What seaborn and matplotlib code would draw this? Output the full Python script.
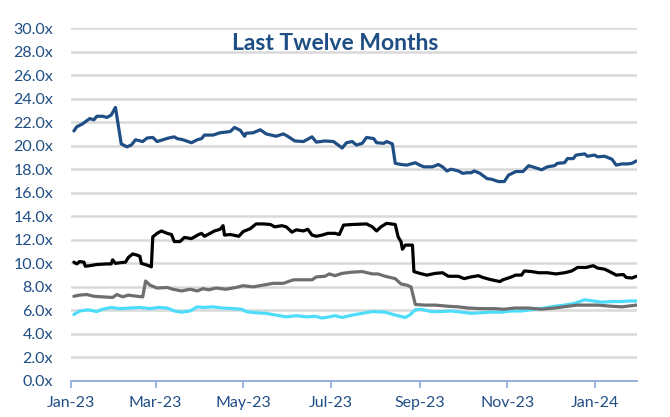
import matplotlib
matplotlib.use("Agg")
import matplotlib.pyplot as plt
import matplotlib.dates as mdates
import matplotlib.ticker as mticker
import numpy as np
import pandas as pd
import seaborn as sns

START = pd.Timestamp("2023-01-01")

# Days since 2023-01-01 and LTM multiples
blue_days = [2, 4, 8, 13, 16, 18, 22, 25, 28, 31, 35, 39, 42, 45, 50, 53, 57, 60, 64, 68, 72, 74, 78, 84, 88,
             91, 93, 99, 104, 111, 114, 118, 121, 122, 127, 132, 136, 143, 148, 151, 156, 162, 168, 171, 177,
             183, 189, 192, 196, 199, 203, 206, 211, 213, 218, 220, 224, 226, 230, 234, 240, 243, 246, 252,
             256, 259, 262, 265, 270, 273, 276, 279, 281, 285, 290, 293, 298, 302, 305, 310, 315, 319, 323,
             328, 332, 337, 339, 344, 346, 350, 352, 358, 360, 365, 367, 372, 377, 380, 384, 388, 391, 394]
blue_vals = [21.25, 21.6, 21.85, 22.3, 22.2, 22.5, 22.5, 22.4, 22.6, 23.25, 20.15, 19.9, 20.05, 20.5, 20.35,
             20.65, 20.7, 20.35, 20.5, 20.65, 20.75, 20.6, 20.5, 20.25, 20.5, 20.6, 20.9, 20.9, 21.1, 21.2,
             21.55, 21.3, 20.8, 21.05, 21.1, 21.35, 21.0, 20.8, 21.0, 20.8, 20.4, 20.35, 20.75, 20.3, 20.4,
             20.35, 19.8, 20.25, 20.35, 20.05, 20.2, 20.7, 20.6, 20.25, 20.2, 20.35, 20.15, 18.5, 18.4, 18.35,
             18.55, 18.35, 18.2, 18.2, 18.4, 18.2, 17.85, 18.0, 17.85, 17.65, 17.7, 17.7, 17.85, 17.65, 17.2,
             17.15, 16.95, 16.95, 17.5, 17.8, 17.8, 18.3, 18.15, 17.95, 18.2, 18.3, 18.5, 18.55, 18.9, 18.9,
             19.2, 19.3, 19.1, 19.2, 19.05, 19.1, 18.85, 18.35, 18.45, 18.45, 18.5, 18.7]

black_days = [2, 4, 6, 9, 10, 13, 18, 25, 28, 29, 31, 34, 38, 40, 43, 46, 48, 49, 53, 56, 57, 60, 63, 67, 70,
              72, 76, 79, 84, 89, 91, 93, 97, 100, 104, 106, 107, 111, 117, 120, 125, 129, 134, 139, 142, 147,
              150, 154, 157, 162, 165, 168, 171, 175, 179, 184, 187, 190, 196, 206, 210, 213, 216, 220, 223,
              226, 228, 230, 231, 233, 238, 239, 243, 248, 254, 259, 263, 270, 274, 279, 284, 287, 293, 299,
              301, 306, 310, 314, 316, 321, 326, 332, 338, 344, 349, 353, 359, 364, 367, 372, 377, 380, 385,
              387, 391, 394]
black_vals = [10.1, 9.95, 10.15, 10.1, 9.75, 9.8, 9.9, 9.95, 9.95, 10.3, 10.0, 10.05, 10.1, 10.5, 10.8, 10.7,
              10.6, 10.0, 9.85, 9.7, 12.25, 12.55, 12.75, 12.55, 12.45, 11.85, 11.85, 12.2, 12.1, 12.45, 12.55,
              12.3, 12.55, 12.75, 12.9, 13.2, 12.4, 12.45, 12.3, 12.7, 12.95, 13.35, 13.35, 13.3, 13.1, 13.2,
              13.1, 12.65, 12.85, 12.75, 12.9, 12.4, 12.3, 12.4, 12.55, 12.55, 12.45, 13.25, 13.3, 13.35, 13.1,
              12.75, 13.1, 13.4, 13.35, 13.3, 12.25, 11.85, 11.2, 11.55, 11.55, 9.3, 9.15, 9.0, 9.15, 9.2, 8.9,
              8.9, 8.7, 8.85, 8.95, 8.8, 8.6, 8.45, 8.6, 8.8, 9.0, 9.0, 9.35, 9.3, 9.2, 9.2, 9.1, 9.2, 9.35,
              9.65, 9.65, 9.8, 9.6, 9.5, 9.2, 9.0, 9.05, 8.8, 8.75, 8.9]

gray_days = [2, 6, 11, 16, 22, 29, 32, 36, 40, 46, 50, 52, 55, 60, 67, 71, 77, 83, 88, 92, 96, 101, 108, 115,
             120, 127, 134, 141, 148, 155, 162, 168, 171, 177, 180, 184, 189, 196, 203, 210, 214, 219, 226, 230,
             234, 237, 240, 247, 254, 263, 270, 277, 286, 295, 302, 309, 319, 328, 337, 346, 353, 360, 367, 377,
             384, 394]
gray_vals = [7.2, 7.3, 7.35, 7.2, 7.15, 7.1, 7.35, 7.15, 7.3, 7.2, 7.15, 8.5, 8.15, 7.9, 7.95, 7.8, 7.65, 7.8,
             7.65, 7.85, 7.75, 7.9, 7.8, 7.95, 8.1, 8.0, 8.15, 8.3, 8.3, 8.6, 8.6, 8.6, 8.85, 8.9, 9.1, 8.95,
             9.15, 9.25, 9.3, 9.1, 9.1, 8.9, 8.7, 8.25, 8.15, 8.0, 6.5, 6.45, 6.45, 6.35, 6.3, 6.2, 6.15, 6.15,
             6.1, 6.2, 6.2, 6.1, 6.2, 6.35, 6.45, 6.45, 6.45, 6.35, 6.3, 6.45]

cyan_days = [2, 6, 12, 18, 22, 28, 34, 41, 48, 55, 61, 67, 72, 77, 83, 88, 92, 99, 106, 113, 119, 122, 129,
             136, 143, 150, 157, 164, 170, 175, 180, 184, 189, 196, 203, 210, 219, 226, 233, 236, 240, 244, 251,
             258, 265, 272, 279, 286, 293, 300, 307, 314, 323, 330, 337, 344, 351, 358, 364, 370, 377, 384, 388,
             394]
cyan_vals = [5.65, 5.95, 6.05, 5.9, 6.1, 6.25, 6.15, 6.2, 6.25, 6.15, 6.25, 6.2, 5.95, 5.85, 5.95, 6.3, 6.25,
             6.3, 6.2, 6.15, 6.1, 5.9, 5.8, 5.75, 5.6, 5.45, 5.55, 5.45, 5.5, 5.35, 5.45, 5.55, 5.4, 5.6, 5.75,
             5.9, 5.85, 5.6, 5.4, 5.6, 6.05, 6.1, 5.9, 5.9, 5.95, 5.85, 5.75, 5.8, 5.85, 5.85, 5.95, 5.95, 6.1,
             6.2, 6.35, 6.45, 6.6, 6.9, 6.8, 6.7, 6.75, 6.75, 6.8, 6.8]

y_ticks = list(np.arange(0, 31, 2))
title = "Last Twelve Months"

series = [
    ("blue", blue_days, blue_vals, "#1F4E85"),
    ("black", black_days, black_vals, "#000000"),
    ("cyan", cyan_days, cyan_vals, "#4DDDFB"),
    ("gray", gray_days, gray_vals, "#6E6E6E"),
]

sns.set_theme(style="white")
plt.rcParams["font.family"] = ["Lato", "DejaVu Sans"]

fig = plt.figure(figsize=(6.7, 4.17), dpi=100)
ax = fig.add_axes([71 / 670, 1 - 381 / 417, (637 - 71) / 670, (381 - 28) / 417])

for name, d, v, c in series:
    df = pd.DataFrame({"date": START + pd.to_timedelta(d, unit="D"), "val": v})
    sns.lineplot(data=df, x="date", y="val", ax=ax, color=c, linewidth=2.3, zorder=3)

ax.set_ylim(0, 30)
ax.set_xlim(START, START + pd.Timedelta(days=394.5))
ax.set_yticks(y_ticks)
ax.yaxis.set_major_formatter(mticker.FuncFormatter(lambda v, p: f"{v:.1f}x"))
ax.xaxis.set_major_locator(mdates.MonthLocator(bymonth=[1, 3, 5, 7, 9, 11]))
ax.xaxis.set_major_formatter(mdates.DateFormatter("%b-%y"))
ax.set_xlabel("")
ax.set_ylabel("")

ax.grid(axis="y", color="#D9D9D9", linewidth=1.8, zorder=0)
ax.grid(axis="x", visible=False)
ax.set_axisbelow(True)
for s in ["left", "right", "top"]:
    ax.spines[s].set_visible(False)
ax.spines["bottom"].set_color("#8EA9DB")
ax.spines["bottom"].set_linewidth(1.3)
ax.spines["bottom"].set_zorder(4)

ax.tick_params(axis="y", length=0, pad=13, labelsize=11.5, labelcolor="#1F4E85")
ax.tick_params(axis="x", length=5, width=1.2, color="#8EA9DB", direction="out", pad=6,
               labelsize=11.5, labelcolor="#1F4E85", bottom=True)

fig.text(335 / 670, 1 - 43 / 417, title, ha="center", va="center", fontsize=16.5,
         fontweight="bold", color="#1F4E85")

fig.savefig("out.png", dpi=100)
